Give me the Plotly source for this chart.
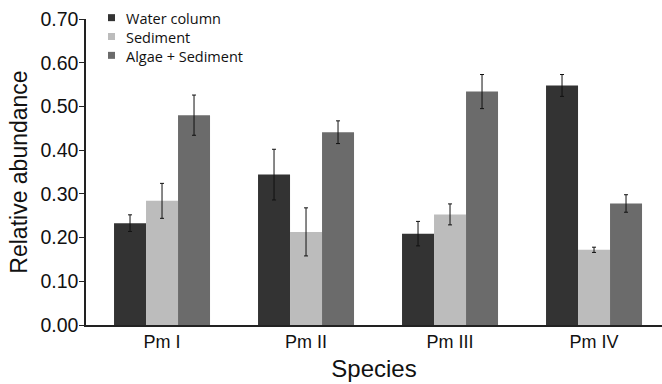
import plotly.graph_objects as go

species = ["Pm I", "Pm II", "Pm III", "Pm IV"]
series_names = ["Water column", "Sediment", "Algae + Sediment"]
water = [0.233, 0.344, 0.209, 0.548]
water_err = [0.019, 0.058, 0.028, 0.025]
sediment = [0.284, 0.213, 0.253, 0.172]
sediment_err = [0.040, 0.055, 0.024, 0.006]
algae = [0.480, 0.441, 0.534, 0.278]
algae_err = [0.046, 0.026, 0.039, 0.020]
colors = ["#333333", "#bcbcbc", "#6b6b6b"]
y_ticks = [0.0, 0.1, 0.2, 0.3, 0.4, 0.5, 0.6, 0.7]

W, H = 662, 384
ML, MR, MT, MB = 86, 0, 19, 59
PW, PH = W - ML - MR, H - MT - MB


def px_x(px):
    return (px - ML) / PW


def px_y(py):
    return (H - MB - py) / PH


fig = go.Figure()
for name, vals, errs, col in zip(series_names, [water, sediment, algae],
                                 [water_err, sediment_err, algae_err], colors):
    fig.add_trace(go.Bar(
        x=species, y=vals, name=name, showlegend=False,
        marker=dict(color=col, line=dict(width=0)),
        error_y=dict(type="data", array=errs, visible=True,
                     color="#111111", thickness=1, width=2),
    ))

# manual compact legend (small squares + one multi-line text)
leg_font = 14.5
line_h = 1.3 * leg_font
center_y = 36.5
shapes = []
for i, col in enumerate(colors):
    ry = center_y + (i - 1) * line_h
    shapes.append(dict(type="rect", xref="paper", yref="paper",
                       x0=px_x(108), x1=px_x(115), y0=px_y(ry + 3.5), y1=px_y(ry - 3.5),
                       fillcolor=col, line=dict(width=0)))
annotations = [dict(x=px_x(124), y=px_y(center_y + 1), xref="paper", yref="paper",
                    text="<br>".join(series_names), showarrow=False,
                    xanchor="left", yanchor="middle", align="left",
                    font=dict(family="Open Sans, sans-serif", size=leg_font, color="#111111"))]

fig.update_layout(
    width=W, height=H,
    margin=dict(l=ML, r=MR, t=MT, b=MB),
    plot_bgcolor="white", paper_bgcolor="white",
    barmode="group", bargap=1/3, bargroupgap=0,
    font=dict(family="Liberation Sans, Arial, sans-serif", color="#111111"),
    showlegend=False,
    shapes=shapes, annotations=annotations,
)
fig.update_xaxes(
    range=[-0.528, 3.472], showline=True, linecolor="#222222", linewidth=1.5,
    ticks="", tickfont=dict(size=18),
    title=dict(text="Species", font=dict(size=24), standoff=9),
)
fig.update_yaxes(
    range=[0, 0.70], tickvals=y_ticks, tickformat=".2f",
    showline=True, linecolor="#222222", linewidth=1.5,
    ticks="outside", ticklen=5, tickcolor="#222222", ticklabelstandoff=-3,
    showgrid=False, zeroline=False, tickfont=dict(size=19.5),
    title=dict(text="Relative abundance", font=dict(size=23), standoff=6),
)
fig.write_html("out.html")
